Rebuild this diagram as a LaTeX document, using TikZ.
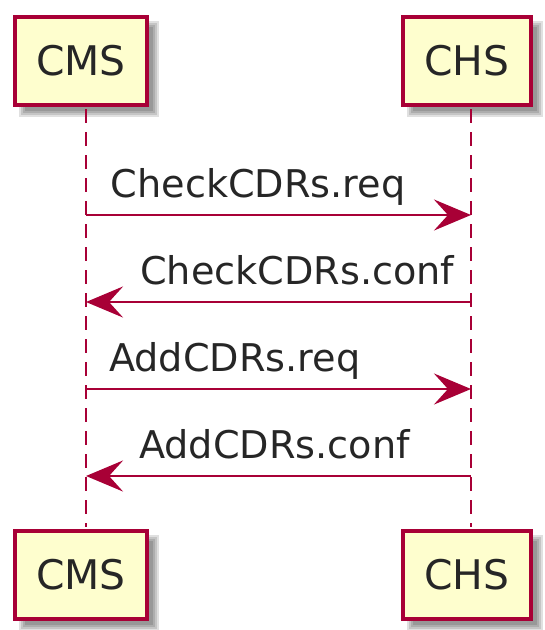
\documentclass[tikz,border=0pt]{standalone}
\usepackage{fontspec}
\setmainfont{DejaVu Sans}
\usetikzlibrary{arrows.meta}
\definecolor{umlred}{HTML}{A80036}
\definecolor{umlfill}{HTML}{FEFECE}
\begin{document}
\begin{tikzpicture}[x=1pt,y=-1pt,
  part/.style={draw=umlred, fill=umlfill, line width=4pt, inner sep=0pt,
    minimum height=88pt, text=black!85,
    font=\fontsize{40.8}{44}\selectfont},
  lifeline/.style={draw=umlred, line width=2.8pt, dash pattern=on 14pt off 9pt},
  msg/.style={draw=umlred, line width=2.8pt,
    -{Stealth[length=37pt, width=31pt, inset=14pt, fill=umlred]}},
  msglabel/.style={anchor=base west, inner sep=0pt, text=black!85,
    font=\fontsize{38.2}{41}\selectfont}]
\useasboundingbox (0,0) rectangle (545,630);
% shadows
\foreach \cx/\cy/\w in {80.8/61/132.3, 466.9/61/128.3, 80.8/574.5/132.3, 466.9/574.5/128.3}{
  \foreach \e in {4,2,0,-2}{
    \fill[black, opacity=0.12]
      (\cx-\w/2+8-\e, \cy-44+8-\e) rectangle (\cx+\w/2+8+\e, \cy+44+8+\e);
  }
}
% participants
\node[part, minimum width=132.3pt] (cmsT) at (80.8,61) {CMS};
\node[part, minimum width=128.3pt] (chsT) at (466.9,61) {CHS};
\node[part, minimum width=132.3pt] (cmsB) at (80.8,574.5) {CMS};
\node[part, minimum width=128.3pt] (chsB) at (466.9,574.5) {CHS};
% lifelines
\draw[lifeline] ([xshift=5.2pt,yshift=-2pt]cmsT.south) -- ([xshift=5.2pt,yshift=2pt]cmsB.north);
\draw[lifeline] ([xshift=4.1pt,yshift=-2pt]chsT.south) -- ([xshift=4.1pt,yshift=2pt]chsB.north);
% message end points on lifelines
\coordinate (c1) at (86,215);  \coordinate (h1) at (471,215);
\coordinate (c2) at (86,302);  \coordinate (h2) at (471,302);
\coordinate (c3) at (86,389);  \coordinate (h3) at (471,389);
\coordinate (c4) at (86,476);  \coordinate (h4) at (471,476);
% messages
\draw[msg] (c1) -- (h1);
\draw[msg] (h2) -- (c2);
\draw[msg] (c3) -- (h3);
\draw[msg] (h4) -- (c4);
% labels
\node[msglabel] (l1) at (110.6,197) {CheckCDRs.req};
\node[msglabel] (l2) at (140,284) {CheckCDRs.conf};
\node[msglabel] (l3) at (109,371) {AddCDRs.req};
\node[msglabel] (l4) at (139,458) {AddCDRs.conf};
\end{tikzpicture}
\end{document}
